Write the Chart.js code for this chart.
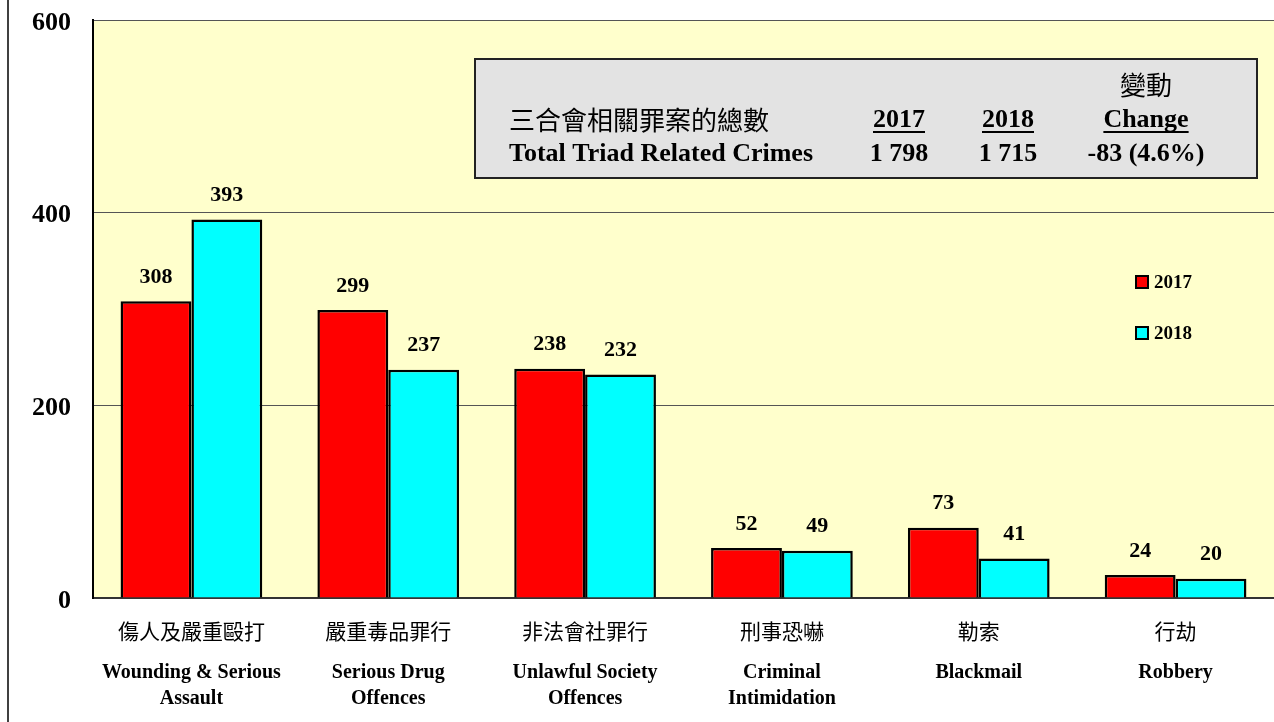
<!DOCTYPE html>
<html>
<head>
<meta charset="utf-8">
<script src="https://cdn.jsdelivr.net/npm/chart.js@4/dist/chart.umd.min.js"></script>
<style>
html,body{margin:0;padding:0;background:#fff;}
#wrap{width:1274px;height:722px;}
</style>
</head>
<body>
<div id="wrap"><canvas id="c" width="1274" height="722"></canvas></div>
<script>
const categoriesZh = ['傷人及嚴重毆打', '嚴重毒品罪行', '非法會社罪行', '刑事恐嚇', '勒索', '行劫'];
const categoriesEn = [['Wounding & Serious', 'Assault'], ['Serious Drug', 'Offences'], ['Unlawful Society', 'Offences'], ['Criminal', 'Intimidation'], ['Blackmail'], ['Robbery']];
const values2017 = [308, 299, 238, 52, 73, 24];
const values2018 = [393, 237, 232, 49, 41, 20];
const seriesLabels = ['2017', '2018'];
const yTickValues = [0, 200, 400, 600];
const summaryTitleZh = '三合會相關罪案的總數';
const summaryTitleEn = 'Total Triad Related Crimes';
const summaryHeaders = ['2017', '2018', 'Change'];
const summaryHeaderZh = '變動';
const summaryValues = ['1 798', '1 715', '-83 (4.6%)'];

const SERIF = '"Liberation Serif", "Times New Roman", serif';
const CJK = '"Noto Sans CJK TC", "Noto Sans CJK SC", sans-serif';

const bgPlugin = {
  id: 'bg',
  beforeDraw(chart) {
    const {ctx, chartArea: a} = chart;
    ctx.save();
    ctx.fillStyle = '#FFFFCC';
    ctx.fillRect(a.left, a.top, a.right - a.left, a.bottom - a.top);
    ctx.strokeStyle = '#404040';
    ctx.lineWidth = 2;
    ctx.beginPath();
    ctx.moveTo(8, 0); ctx.lineTo(8, chart.height);
    ctx.stroke();
    ctx.restore();
  }
};

const labelsPlugin = {
  id: 'lbls',
  afterDatasetsDraw(chart) {
    const ctx = chart.ctx;
    ctx.save();
    ctx.fillStyle = '#000';
    ctx.textAlign = 'center';
    ctx.textBaseline = 'middle';
    ctx.font = 'bold 22px ' + SERIF;
    chart.data.datasets.forEach((ds, i) => {
      chart.getDatasetMeta(i).data.forEach((bar, j) => {
        ctx.fillText(String(ds.data[j]), bar.x, bar.y - 24);
      });
    });
    // x category labels
    const xs = chart.scales.x;
    categoriesZh.forEach((zh, j) => {
      const x = xs.getPixelForValue(j);
      ctx.font = '21px ' + CJK;
      ctx.fillText(zh, x, 631);
      ctx.font = 'bold 20px ' + SERIF;
      categoriesEn[j].forEach((ln, k) => {
        ctx.fillText(ln, x, 673 + k * 26);
      });
    });
    // legend
    chart.data.datasets.forEach((ds, i) => {
      const y = 282 + i * 51;
      ctx.fillStyle = ds.backgroundColor;
      ctx.fillRect(1136, y - 6, 12, 12);
      ctx.strokeStyle = '#000';
      ctx.lineWidth = 2;
      ctx.strokeRect(1136, y - 6, 12, 12);
      ctx.fillStyle = '#000';
      ctx.textAlign = 'left';
      ctx.font = 'bold 19px ' + SERIF;
      ctx.fillText(ds.label, 1154, y + 1);
      ctx.textAlign = 'center';
    });
    // summary box
    ctx.fillStyle = '#E3E3E3';
    ctx.fillRect(475, 59, 782, 119);
    ctx.strokeStyle = '#222';
    ctx.lineWidth = 2;
    ctx.strokeRect(475, 59, 782, 119);
    ctx.fillStyle = '#000';
    ctx.textAlign = 'left';
    ctx.font = '26px ' + CJK;
    ctx.fillText(summaryTitleZh, 509, 120);
    ctx.font = 'bold 26px ' + SERIF;
    ctx.fillText(summaryTitleEn, 509, 154);
    ctx.textAlign = 'center';
    const cols = [899, 1008, 1146];
    ctx.font = '26px ' + CJK;
    ctx.fillText(summaryHeaderZh, cols[2], 85);
    summaryHeaders.forEach((h, k) => {
      ctx.font = 'bold 26px ' + SERIF;
      ctx.fillText(h, cols[k], 120);
      const w = ctx.measureText(h).width;
      ctx.fillRect(cols[k] - w / 2, 131, w, 2);
      ctx.fillText(summaryValues[k], cols[k], 154);
    });
    ctx.restore();
  }
};

new Chart(document.getElementById('c'), {
  type: 'bar',
  data: {
    labels: categoriesZh,
    datasets: [
      {label: seriesLabels[0], data: values2017, backgroundColor: '#FF0000', borderColor: '#000', borderWidth: 2.5, borderSkipped: 'bottom'},
      {label: seriesLabels[1], data: values2018, backgroundColor: '#00FFFF', borderColor: '#000', borderWidth: 2.5, borderSkipped: 'bottom'}
    ]
  },
  options: {
    responsive: false,
    animation: false,
    layout: {padding: {top: 20, left: 0, right: 0, bottom: 0}},
    plugins: {legend: {display: false}, tooltip: {enabled: false}},
    datasets: {bar: {categoryPercentage: 0.72, barPercentage: 1}},
    scales: {
      x: {
        grid: {display: false},
        ticks: {display: false},
        border: {display: true, color: '#333', width: 2},
        afterFit(s) { s.height = 124; s.paddingLeft = 0; s.paddingRight = 0; }
      },
      y: {
        min: 0, max: 600,
        afterBuildTicks(s) { s.ticks = yTickValues.map(v => ({value: v})); },
        afterFit(s) { s.width = 93; s.paddingTop = 0; s.paddingBottom = 0; },
        grid: {color: '#555', lineWidth: 1, drawTicks: false},
        border: {display: true, color: '#000', width: 2},
        ticks: {color: '#000', padding: 22, labelOffset: 3, font: {family: SERIF, size: 26, weight: 'bold'}}
      }
    }
  },
  plugins: [bgPlugin, labelsPlugin]
});
</script>
</body>
</html>
